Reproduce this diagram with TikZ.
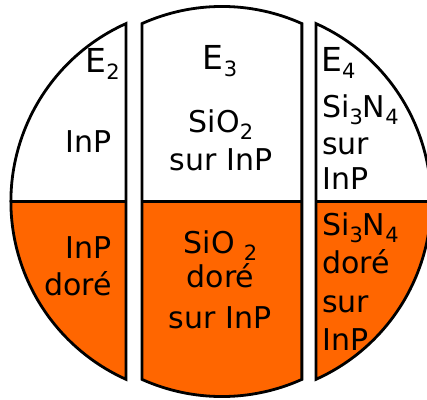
\documentclass[tikz,border=0pt]{standalone}
\usepackage{fontspec}
\setmainfont{DejaVu Sans}
\definecolor{dore}{HTML}{FF6600}
\newcommand\subs[1]{\raisebox{-7pt}{\fontsize{21}{21}\selectfont #1}}
\begin{document}
\begin{tikzpicture}[x=1pt,y=1pt,
  outline/.style={line width=2.8pt,line join=miter},
  lbl/.style={inner sep=0pt,font=\fontsize{30}{30}\selectfont},
  elbl/.style={inner sep=0pt,font=\fontsize{33}{33}\selectfont}]
\useasboundingbox (0,0) rectangle (427,399);
\clip (0,0) rectangle (427,399);
\def\R{195}
\def\cy{197.5}
% left strip: centre 206
\fill[white] (126,\cy) -- ++(0,177.9) arc[start angle=114.2,end angle=180,radius=\R] -- cycle;
\fill[dore] (126,\cy) -- (11,\cy) arc[start angle=180,end angle=245.8,radius=\R] -- cycle;
\draw[outline] (126,\cy) -- ++(0,177.9) arc[start angle=114.2,end angle=245.8,radius=\R] -- cycle;
\draw[outline] (11,\cy) -- (126,\cy);
% centre strip: centre 222
\fill[white] (142,\cy) -- ++(0,177.9) arc[start angle=114.2,end angle=65.8,radius=\R] -- (302,\cy) -- cycle;
\fill[dore] (142,\cy) -- ++(0,-177.9) arc[start angle=245.8,end angle=294.2,radius=\R] -- (302,\cy) -- cycle;
\draw[outline] (142,\cy) -- ++(0,177.9) arc[start angle=114.2,end angle=65.8,radius=\R] -- ++(0,-355.8) arc[start angle=294.2,end angle=245.8,radius=\R] -- cycle;
\draw[outline] (142,\cy) -- (302,\cy);
% right strip: centre 236
\fill[white] (316,\cy) -- ++(0,177.9) arc[start angle=65.8,end angle=0,radius=\R] -- cycle;
\fill[dore] (316,\cy) -- (431,\cy) arc[start angle=0,end angle=-65.8,radius=\R] -- cycle;
\draw[outline] (316,\cy) -- ++(0,177.9) arc[start angle=65.8,end angle=-65.8,radius=\R] -- cycle;
\draw[outline] (316,\cy) -- (431,\cy);
% left labels
\node[elbl,anchor=base east] (e2) at (120,326) {E\subs{2}};
\node[lbl,anchor=base east] (l1) at (112,246) {InP};
\node[lbl,anchor=base east] (l2) at (112,141) {InP};
\node[lbl,anchor=base east] (l3) at (112,104) {doré};
% centre labels
\node[elbl,anchor=base] (e3) at (220,329) {E\subs{3}};
\node[lbl,anchor=base] (c1) at (221,266) {SiO\subs{2}};
\node[lbl,anchor=base] (c2) at (221,229) {sur InP};
\node[lbl,anchor=base] (c3) at (220.5,146) {SiO\hspace{9pt}\subs{2}};
\node[lbl,anchor=base] (c4) at (220.5,112) {doré};
\node[lbl,anchor=base] (c5) at (220,71) {sur InP};
% right labels
\node[elbl,anchor=base west] (e4) at (321,327) {E\subs{4}};
\node[lbl,anchor=base west] (r1) at (322,281) {Si\subs{3}N\subs{4}};
\node[lbl,anchor=base west] (r2) at (322,244) {sur};
\node[lbl,anchor=base west] (r3) at (322,209) {InP};
\node[lbl,anchor=base west] (r4) at (322,164) {Si\subs{3}N\subs{4}};
\node[lbl,anchor=base west] (r5) at (322,126) {doré};
\node[lbl,anchor=base west] (r6) at (322,87) {sur};
\node[lbl,anchor=base west] (r7) at (322,49) {InP};
\end{tikzpicture}
\end{document}
